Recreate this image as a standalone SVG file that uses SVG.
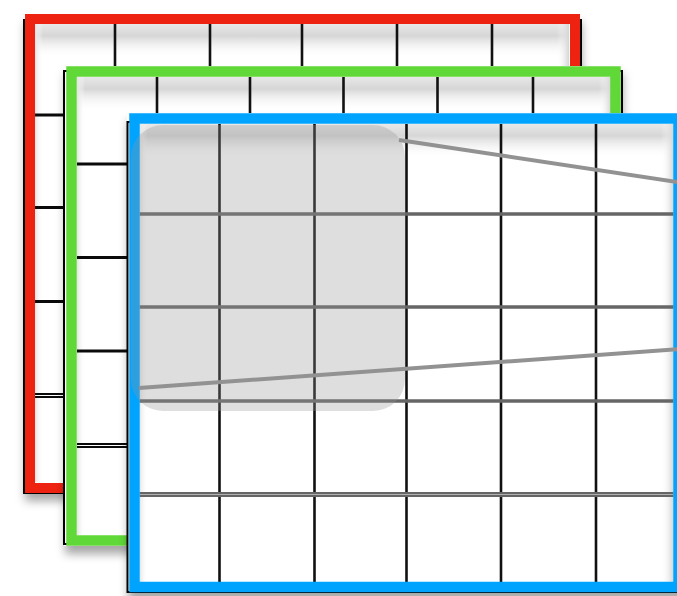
<svg xmlns="http://www.w3.org/2000/svg" width="677" height="596" viewBox="0 0 677 596">
  <defs>
    <filter id="drop" x="-10%" y="-10%" width="125%" height="125%">
      <feDropShadow dx="1" dy="8" stdDeviation="5" flood-color="#000" flood-opacity="0.35"/>
    </filter>
    <linearGradient id="topShade" x1="0" y1="0" x2="0" y2="1">
      <stop offset="0" stop-color="#e8e8e8"/>
      <stop offset="0.35" stop-color="#d6d6d6"/>
      <stop offset="1" stop-color="#ffffff" stop-opacity="0"/>
    </linearGradient>
    <linearGradient id="rightShade" x1="0" y1="0" x2="1" y2="0">
      <stop offset="0" stop-color="#ffffff" stop-opacity="0"/>
      <stop offset="1" stop-color="#d4d4d4"/>
    </linearGradient>
    <linearGradient id="leftShade" x1="0" y1="0" x2="1" y2="0">
      <stop offset="0" stop-color="#e4e4e4"/>
      <stop offset="1" stop-color="#ffffff" stop-opacity="0"/>
    </linearGradient>
    <style>
      .bg { fill: #ffffff; }
      .vl { stroke: #111111; stroke-width: 2.6; fill: none; }
      .hl { stroke: #0a0a0a; stroke-width: 3.2; fill: none; }
      .dbl { stroke: #0a0a0a; stroke-width: 5; fill: none; }
      .dblc { stroke: #ffffff; stroke-width: 1.2; fill: none; }
      .ghl { stroke: #666666; stroke-width: 3.6; fill: none; }
      .gdbl { stroke: #666666; stroke-width: 5; fill: none; }
      .gdblc { stroke: #b0b0b0; stroke-width: 1.2; fill: none; }
      .edge { fill: none; stroke: #000000; stroke-width: 2; }
      .red { fill: none; stroke: #ee2210; stroke-width: 10; }
      .green { fill: none; stroke: #60d838; stroke-width: 10.5; }
      .blue { fill: none; stroke: #00a4ff; stroke-width: 10.5; }
      .conn { stroke: #929292; stroke-width: 4; fill: none; }
      .focus { fill: #949494; fill-opacity: 0.31; }
    </style>
  </defs>

  <!-- Red frame (back) -->
  <g id="frame-red">
    <rect class="bg" x="24" y="14" width="557" height="479" filter="url(#drop)"/>
    <rect x="35" y="24" width="534" height="34" fill="url(#topShade)"/>
    <rect x="35" y="24" width="8" height="458" fill="url(#leftShade)"/>
    <rect x="557" y="24" width="12" height="458" fill="url(#rightShade)"/>
    <g>
      <line class="vl" x1="115" y1="24" x2="115" y2="482"/>
      <line class="vl" x1="210" y1="24" x2="210" y2="482"/>
      <line class="vl" x1="302" y1="24" x2="302" y2="482"/>
      <line class="vl" x1="397" y1="24" x2="397" y2="482"/>
      <line class="vl" x1="492" y1="24" x2="492" y2="482"/>
      <line class="hl" x1="35" y1="115" x2="569" y2="115"/>
      <line class="hl" x1="35" y1="207.5" x2="569" y2="207.5"/>
      <line class="hl" x1="35" y1="301.5" x2="569" y2="301.5"/>
      <line class="dbl" x1="35" y1="395.5" x2="569" y2="395.5"/>
      <line class="dblc" x1="35" y1="395.5" x2="569" y2="395.5"/>
    </g>
    <rect class="edge" x="24" y="20" width="557" height="473"/>
    <rect class="red" x="30" y="19" width="545" height="469"/>
  </g>

  <!-- Green frame (middle) -->
  <g id="frame-green">
    <rect class="bg" x="64" y="66" width="558" height="480" filter="url(#drop)"/>
    <rect x="77" y="77" width="534" height="34" fill="url(#topShade)"/>
    <rect x="77" y="77" width="8" height="458" fill="url(#leftShade)"/>
    <rect x="599" y="77" width="12" height="458" fill="url(#rightShade)"/>
    <g>
      <line class="vl" x1="157" y1="77" x2="157" y2="535"/>
      <line class="vl" x1="250" y1="77" x2="250" y2="535"/>
      <line class="vl" x1="343.5" y1="77" x2="343.5" y2="535"/>
      <line class="vl" x1="437.5" y1="77" x2="437.5" y2="535"/>
      <line class="vl" x1="533" y1="77" x2="533" y2="535"/>
      <line class="hl" x1="77" y1="164" x2="611" y2="164"/>
      <line class="hl" x1="77" y1="257.5" x2="611" y2="257.5"/>
      <line class="hl" x1="77" y1="351" x2="611" y2="351"/>
      <line class="dbl" x1="77" y1="445.5" x2="611" y2="445.5"/>
      <line class="dblc" x1="77" y1="445.5" x2="611" y2="445.5"/>
    </g>
    <rect class="edge" x="64" y="71" width="558" height="473"/>
    <rect class="green" x="71.5" y="71.5" width="544" height="469"/>
  </g>

  <!-- Blue frame (front) -->
  <g id="frame-blue">
    <rect class="bg" x="127" y="113" width="560" height="480" filter="url(#drop)"/>
    <rect x="139.5" y="124" width="534" height="34" fill="url(#topShade)"/>
    <rect x="139.5" y="124" width="8" height="458" fill="url(#leftShade)"/>
    <rect x="661" y="124" width="12.5" height="458" fill="url(#rightShade)"/>
    <g>
      <line class="vl" x1="219.5" y1="124" x2="219.5" y2="582"/>
      <line class="vl" x1="314.5" y1="124" x2="314.5" y2="582"/>
      <line class="vl" x1="406.5" y1="124" x2="406.5" y2="582"/>
      <line class="vl" x1="501" y1="124" x2="501" y2="582"/>
      <line class="vl" x1="596" y1="124" x2="596" y2="582"/>
      <line class="ghl" x1="139.5" y1="214" x2="673.5" y2="214"/>
      <line class="ghl" x1="139.5" y1="307" x2="673.5" y2="307"/>
      <line class="ghl" x1="139.5" y1="401" x2="673.5" y2="401"/>
      <line class="gdbl" x1="139.5" y1="494.5" x2="673.5" y2="494.5"/>
      <line class="gdblc" x1="139.5" y1="494.5" x2="673.5" y2="494.5"/>
    </g>
    <rect class="edge" x="127.5" y="122" width="560" height="470"/>
    <rect class="blue" x="134.5" y="118.5" width="544" height="468.5"/>
  </g>

  <!-- Highlighted region -->
  <g id="focus-region">
    <rect class="focus" x="131" y="125" width="274" height="286" rx="32" ry="32"/>
  </g>

  <!-- Connectors -->
  <g id="connectors">
    <line class="conn" x1="399" y1="140" x2="690" y2="184"/>
    <line class="conn" x1="139" y1="388" x2="690" y2="348.4"/>
  </g>
</svg>
